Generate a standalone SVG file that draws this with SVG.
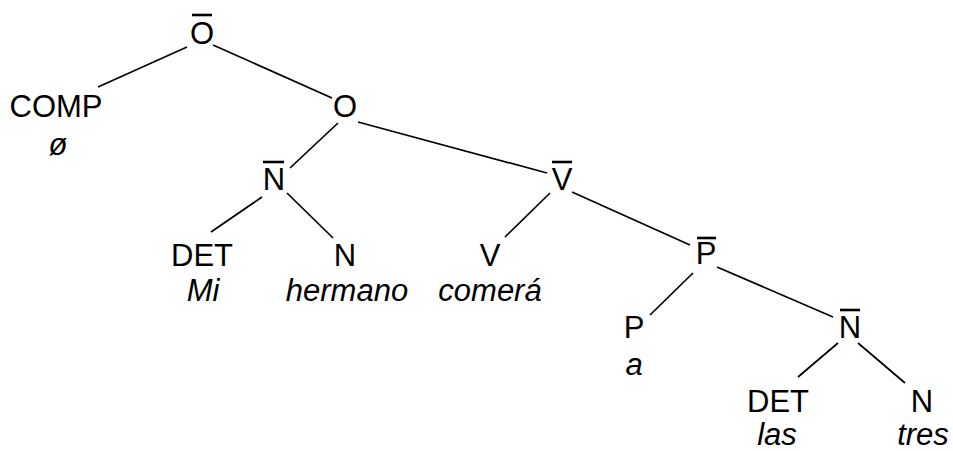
<svg xmlns="http://www.w3.org/2000/svg" width="953" height="451" viewBox="0 0 953 451">
<style>
text{font-family:"Liberation Sans",Arial,sans-serif;font-size:31px;fill:#000;text-anchor:middle}
.w{font-style:italic}
.e line{stroke:#000;stroke-width:1.7}
.bar{stroke:#000;stroke-width:2.6}
</style>
<rect width="953" height="451" fill="#fff"/>
<g id="connectors" class="e">
<line x1="187" y1="47" x2="98" y2="87"/>
<line x1="213" y1="45" x2="332" y2="98"/>
<line x1="338" y1="123" x2="290" y2="168"/>
<line x1="358" y1="122" x2="547" y2="173"/>
<line x1="262" y1="197" x2="211" y2="232"/>
<line x1="287" y1="193" x2="333" y2="238"/>
<line x1="550" y1="193" x2="505" y2="237"/>
<line x1="572" y1="192" x2="690" y2="245"/>
<line x1="693" y1="273" x2="650" y2="315"/>
<line x1="717" y1="267" x2="833" y2="317"/>
<line x1="838" y1="343" x2="798" y2="377"/>
<line x1="858" y1="343" x2="905" y2="383"/>
</g>
<g id="n-Obar"><text x="202" y="44">O</text><line class="bar" x1="192" y1="15" x2="212" y2="15"/></g>
<g id="n-comp"><text x="56" y="117">COMP</text><text class="w" x="58" y="155">ø</text></g>
<g id="n-O"><text x="345" y="117">O</text></g>
<g id="n-Nbar1"><text x="274" y="190">N</text><line class="bar" x1="263" y1="162" x2="284" y2="162"/></g>
<g id="n-Vbar"><text x="562" y="190">V</text><line class="bar" x1="552" y1="162" x2="572" y2="162"/></g>
<g id="n-det1"><text x="202" y="266">DET</text><text class="w" x="203" y="301">Mi</text></g>
<g id="n-n1"><text x="345" y="266">N</text><text class="w" x="347" y="301">hermano</text></g>
<g id="n-v"><text x="490" y="266">V</text><text class="w" x="490" y="301">comerá</text></g>
<g id="n-Pbar"><text x="706" y="264">P</text><line class="bar" x1="697" y1="238" x2="716" y2="238"/></g>
<g id="n-p"><text x="634" y="338">P</text><text class="w" x="634" y="375">a</text></g>
<g id="n-Nbar2"><text x="850" y="338">N</text><line class="bar" x1="840" y1="310" x2="860" y2="310"/></g>
<g id="n-det2"><text x="778" y="412">DET</text><text class="w" x="777" y="445">las</text></g>
<g id="n-n2"><text x="922" y="412">N</text><text class="w" x="923" y="445">tres</text></g>
</svg>
